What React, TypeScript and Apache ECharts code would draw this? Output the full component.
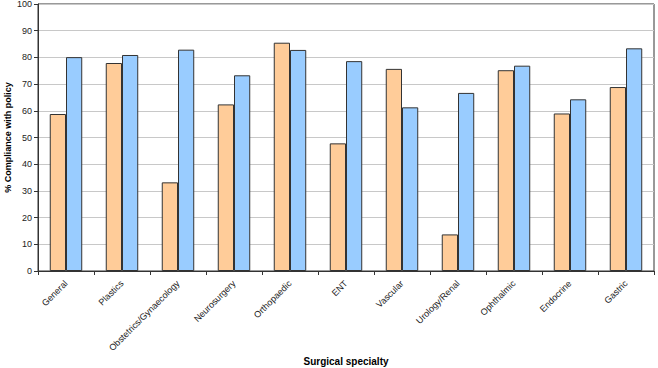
import React, { useEffect, useRef } from "react";
import * as echarts from "echarts";

const categories = [
  "General",
  "Plastics",
  "Obstetrics/Gynaecology",
  "Neurosurgery",
  "Orthopaedic",
  "ENT",
  "Vascular",
  "Urology/Renal",
  "Ophthalmic",
  "Endocrine",
  "Gastric",
];
const seriesA = [58.8, 77.9, 33.2, 62.4, 85.5, 47.8, 75.7, 13.7, 75.2, 59.0, 68.9];
const seriesB = [80.1, 80.9, 82.9, 73.3, 82.8, 78.6, 61.3, 66.7, 76.9, 64.3, 83.4];
const yTicks = { min: 0, max: 100, interval: 10 };

export default function App() {
  const ref = useRef<HTMLDivElement>(null);
  useEffect(() => {
    const chart = echarts.init(ref.current!, null, { renderer: "svg" });
    const font = "'Liberation Sans', Arial, sans-serif";
    chart.setOption({
      animation: false,
      textStyle: { fontFamily: font },
      grid: {
        left: 38,
        right: 4,
        top: 4,
        bottom: 97,
        outerBoundsMode: "none",
        containLabel: false,
        show: true,
        borderColor: "#333",
        borderWidth: 1,
        backgroundColor: "transparent",
      },
      xAxis: {
        type: "category",
        data: categories,
        name: "Surgical specialty",
        nameLocation: "middle",
        nameGap: 85,
        nameMoveOverlap: false,
        nameTextStyle: { fontFamily: font, fontSize: 10, fontWeight: "bold", color: "#000" },
        axisLine: { lineStyle: { color: "#333" } },
        axisTick: { show: true, alignWithLabel: false, length: 4, lineStyle: { color: "#333" } },
        axisLabel: {
          rotate: 45,
          interval: 0,
          fontFamily: font,
          fontSize: 9,
          color: "#222",
          margin: 11,
        },
      },
      yAxis: {
        type: "value",
        min: yTicks.min,
        max: yTicks.max,
        interval: yTicks.interval,
        name: "% Compliance with policy",
        nameLocation: "middle",
        nameGap: 26,
        nameMoveOverlap: false,
        nameTextStyle: { fontFamily: font, fontSize: 9, fontWeight: "bold", color: "#000" },
        axisLine: { show: true, lineStyle: { color: "#333" } },
        axisTick: { show: true, length: 4, inside: false, lineStyle: { color: "#333" } },
        axisLabel: { fontFamily: font, fontSize: 9, color: "#222", margin: 6 },
        splitLine: { lineStyle: { color: "#c8c8c8" } },
      },
      series: [
        {
          type: "bar",
          data: seriesA,
          barGap: "0%",
          barCategoryGap: "42%",
          itemStyle: { color: "#FFCC99", borderColor: "#333", borderWidth: 1 },
        },
        {
          type: "bar",
          data: seriesB,
          itemStyle: { color: "#99CCFF", borderColor: "#333", borderWidth: 1 },
        },
      ],
    });
    return () => chart.dispose();
  }, []);
  return <div ref={ref} style={{ width: 658, height: 368, position: "absolute", left: 0, top: 0 }} />;
}
